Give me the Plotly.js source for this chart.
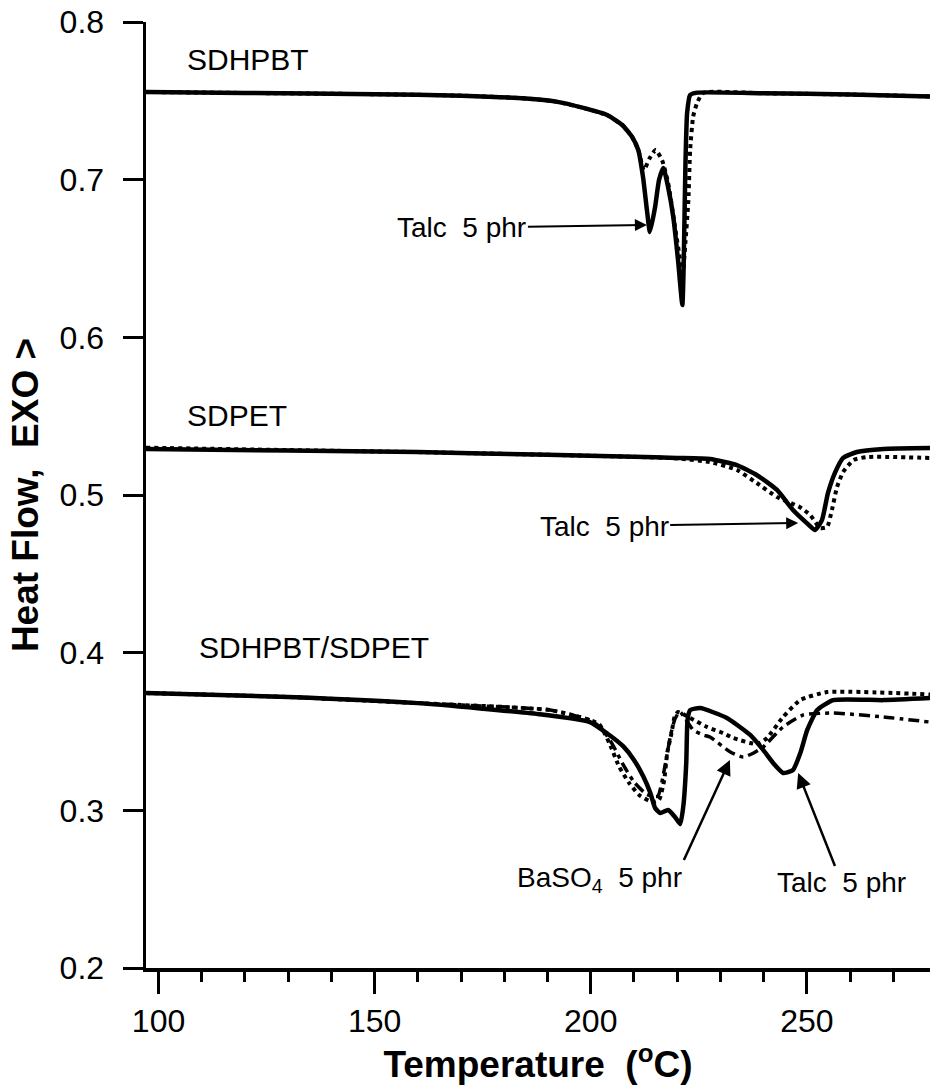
<!DOCTYPE html>
<html>
<head>
<meta charset="utf-8">
<script src="https://cdn.plot.ly/plotly-3.0.1.min.js"></script>
<style>
  html, body { margin: 0; padding: 0; background: #fff; }
  #chart { width: 938px; height: 1086px; }
</style>
</head>
<body>
<div id="chart"></div>
<script>
// ---- SDHPBT (top) ----
const hpbtT = [97.1, 120, 150, 170, 185, 192, 198.3, 203.8, 207.3, 209.6, 211, 212.1, 213, 213.7, 214.9, 215.8, 216.8, 217.9, 219.1, 220.2, 221.2, 221.5, 221.9, 222.3, 223, 224.6, 240, 260, 278.5];
const hpbtNeat = [0.7556, 0.7550, 0.7542, 0.7533, 0.7515, 0.7495, 0.7455, 0.7410, 0.7347, 0.7270, 0.7188, 0.7017, 0.6808, 0.6668, 0.6827, 0.6998, 0.7074, 0.6953, 0.6763, 0.6490, 0.6205, 0.6450, 0.7080, 0.7423, 0.7537, 0.7552, 0.7548, 0.7540, 0.7528];
const hpbtTalcT = [97.1, 120, 150, 170, 185, 192, 198.3, 203.8, 207.3, 209.6, 211, 212.3, 213.5, 215, 216.5, 217.9, 219.5, 220.7, 221.3, 221.9, 222.6, 223, 223.7, 224.6, 226, 240, 260, 278.5];
const hpbtTalc = [0.7556, 0.7550, 0.7542, 0.7533, 0.7515, 0.7495, 0.7455, 0.7410, 0.7347, 0.7270, 0.7188, 0.7060, 0.7130, 0.7188, 0.7125, 0.6980, 0.6700, 0.6490, 0.6408, 0.6600, 0.6870, 0.7188, 0.7400, 0.7486, 0.7550, 0.7548, 0.7540, 0.7528];

// ---- SDPET (middle) ----
const petT = [97.1, 130, 160, 190, 210, 220, 227.6, 233.8, 238.4, 243.1, 246.8, 250, 251.9, 253.5, 254.9, 256.5, 258.4, 261.6, 267.7, 278.5];
const petNeat = [0.5292, 0.5282, 0.5272, 0.5255, 0.5242, 0.5235, 0.5228, 0.5190, 0.5127, 0.5032, 0.4905, 0.4822, 0.4778, 0.4841, 0.5013, 0.5140, 0.5235, 0.5273, 0.5292, 0.5298];
const petTalcT = [97.1, 130, 160, 190, 210, 220, 227.6, 233.8, 238.4, 243.1, 248.3, 250.8, 253.1, 254.7, 255.8, 257, 258.4, 260.8, 264, 278.5];
const petTalc = [0.5300, 0.5285, 0.5272, 0.5255, 0.5242, 0.5232, 0.5209, 0.5159, 0.5076, 0.4987, 0.4924, 0.4873, 0.4790, 0.4797, 0.4905, 0.5051, 0.5146, 0.5222, 0.5241, 0.5235];

// ---- SDHPBT/SDPET (bottom) ----
const blendT = [97.1, 130, 160, 188, 199.8, 204.3, 207.6, 210, 212.2, 213.8, 214.9, 216.1, 217.9, 219.5, 220.7, 221.4, 222.1, 222.4, 223, 225.3, 231.5, 236.9, 239.9, 242.2, 244.5, 246.8, 248.5, 250.1, 252.4, 256.1, 267.7, 278.5];
const blendNeat = [0.3744, 0.3719, 0.3680, 0.3610, 0.3560, 0.3478, 0.3404, 0.3320, 0.3213, 0.3110, 0.3015, 0.2983, 0.3002, 0.2958, 0.2913, 0.3021, 0.3300, 0.3573, 0.3636, 0.3649, 0.3586, 0.3478, 0.3383, 0.3300, 0.3237, 0.3256, 0.3364, 0.3510, 0.3636, 0.3699, 0.3699, 0.3712];
const blendTalcT = [97.1, 130, 160, 190.6, 199.8, 202.1, 204.3, 206.6, 208.9, 211.2, 214.2, 215.8, 217, 217.7, 218.7, 219.4, 220.2, 223, 226.9, 230.6, 233, 238.5, 240.8, 244.5, 248.5, 254.7, 278.5];
const blendTalc = [0.3744, 0.3719, 0.3680, 0.3636, 0.3573, 0.3541, 0.3427, 0.3275, 0.3173, 0.3097, 0.3053, 0.3066, 0.3192, 0.3364, 0.3491, 0.3592, 0.3624, 0.3586, 0.3529, 0.3490, 0.3459, 0.3420, 0.3459, 0.3592, 0.3700, 0.3750, 0.3735];
const blendBaT = [97.1, 130, 160, 190.6, 199.8, 202.5, 205, 207.5, 210, 213, 215.5, 217.3, 218.5, 219.5, 220.6, 223.7, 226, 227.6, 232.3, 235.3, 237.7, 239.9, 244.5, 249.2, 256.1, 267.7, 278.5];
const blendBa = [0.3744, 0.3719, 0.3680, 0.3636, 0.3573, 0.3520, 0.3420, 0.3290, 0.3180, 0.3100, 0.3090, 0.3300, 0.3480, 0.3580, 0.3625, 0.3510, 0.3478, 0.3465, 0.3370, 0.3338, 0.3364, 0.3402, 0.3529, 0.3605, 0.3617, 0.3592, 0.3560];

const xTickVals = [100, 150, 200, 250];
const yTickVals = [0.2, 0.3, 0.4, 0.5, 0.6, 0.7, 0.8];

const FONT = 'Liberation Sans, Arial, Helvetica, sans-serif';
const solid = {color: '#000', width: 4.5, shape: 'spline', smoothing: 0.5};
const dotted = {color: '#000', width: 4, dash: '4px,4px', shape: 'spline', smoothing: 0.5};
const dashdot = {color: '#000', width: 3.5, dash: '11px,5px,4px,5px', shape: 'spline', smoothing: 0.5};

const traces = [
  {x: hpbtTalcT, y: hpbtTalc, mode: 'lines', line: dotted, name: 'SDHPBT Talc 5 phr'},
  {x: hpbtT, y: hpbtNeat, mode: 'lines', line: solid, name: 'SDHPBT'},
  {x: petTalcT, y: petTalc, mode: 'lines', line: dotted, name: 'SDPET Talc 5 phr'},
  {x: petT, y: petNeat, mode: 'lines', line: solid, name: 'SDPET'},
  {x: blendTalcT, y: blendTalc, mode: 'lines', line: dotted, name: 'SDHPBT/SDPET Talc 5 phr'},
  {x: blendBaT, y: blendBa, mode: 'lines', line: dashdot, name: 'SDHPBT/SDPET BaSO4 5 phr'},
  {x: blendT, y: blendNeat, mode: 'lines', line: solid, name: 'SDHPBT/SDPET'}
];

const lblFont = {family: FONT, size: 30, color: '#000'};
const talcFont = {family: FONT, size: 28, color: '#000'};
const arrowStyle = {showarrow: true, arrowhead: 2, arrowsize: 1.2, arrowwidth: 2.5, arrowcolor: '#000'};

const layout = {
  width: 938, height: 1086,
  paper_bgcolor: '#fff', plot_bgcolor: '#fff',
  margin: {l: 146, r: 8, t: 22, b: 118},
  showlegend: false,
  font: {family: FONT, color: '#000'},
  xaxis: {
    range: [97.1, 278.5], showgrid: false, zeroline: false,
    showline: true, linecolor: '#000', linewidth: 3.5,
    ticks: 'outside', ticklen: 22, tickwidth: 3, tickcolor: '#000',
    tickvals: xTickVals, ticktext: xTickVals.map(String),
    ticklabelstandoff: 0,
    tickfont: {family: FONT, size: 32, color: '#000'},
    minor: {tick0: 100, dtick: 10, ticks: 'outside', ticklen: 10, tickwidth: 3, tickcolor: '#000', showgrid: false},
    title: {text: 'Temperature\u00a0 (<sup>o</sup>C)', font: {family: FONT, size: 37, color: '#000', weight: 'bold'}, standoff: 6}
  },
  yaxis: {
    range: [0.2, 0.8], showgrid: false, zeroline: false,
    showline: true, linecolor: '#000', linewidth: 3.5,
    ticks: 'outside', ticklen: 20, tickwidth: 3, tickcolor: '#000',
    tickvals: yTickVals, ticktext: yTickVals.map(v => v.toFixed(1)),
    ticklabelstandoff: 12,
    tickfont: {family: FONT, size: 32, color: '#000'},
    title: {text: 'Heat Flow,\u00a0 EXO >', font: {family: FONT, size: 37, color: '#000', weight: 'bold'}, standoff: 10}
  },
  annotations: [
    {x: 106.1, y: 0.7765, xref: 'x', yref: 'y', text: 'SDHPBT', showarrow: false, xanchor: 'left', font: lblFont},
    {x: 106.1, y: 0.5507, xref: 'x', yref: 'y', text: 'SDPET', showarrow: false, xanchor: 'left', font: lblFont},
    {x: 108.9, y: 0.4030, xref: 'x', yref: 'y', text: 'SDHPBT/SDPET', showarrow: false, xanchor: 'left', font: lblFont},
    Object.assign({x: 213.0, y: 0.6713, xref: 'x', yref: 'y', text: 'Talc\u00a0 5 phr', ax: -185, ay: 3, font: talcFont}, arrowStyle, {arrowwidth: 2}),
    Object.assign({x: 248.0, y: 0.4822, xref: 'x', yref: 'y', text: 'Talc\u00a0 5 phr', ax: -194, ay: 3, font: talcFont}, arrowStyle, {arrowwidth: 2}),
    Object.assign({x: 232.2, y: 0.3319, xref: 'x', yref: 'y', text: 'BaSO<sub>4</sub>\u00a0 5 phr', ax: -46, ay: 100,
      xanchor: 'right', yanchor: 'top', font: talcFont}, arrowStyle),
    Object.assign({x: 248.0, y: 0.3237, xref: 'x', yref: 'y', text: 'Talc\u00a0 5 phr', ax: 43.5, ay: 110, font: talcFont}, arrowStyle)
  ]
};

Plotly.newPlot('chart', traces, layout, {staticPlot: true, displayModeBar: false});
</script>
</body>
</html>
